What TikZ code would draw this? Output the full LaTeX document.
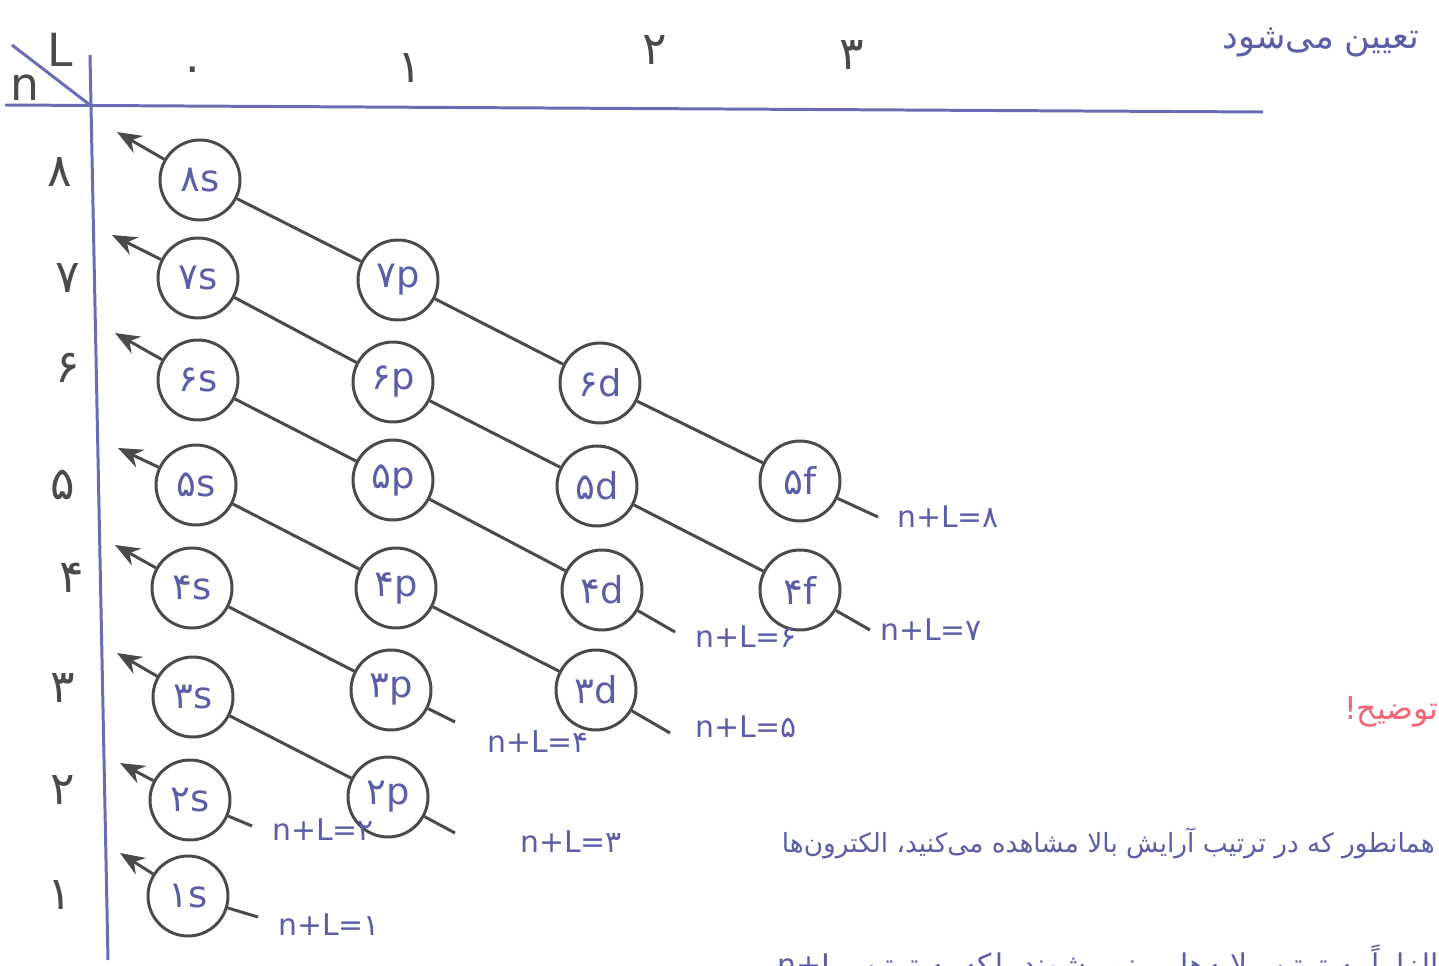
\documentclass[tikz,border=0pt]{standalone}
\usepackage{fontspec}
\setmainfont{DejaVu Sans}
\newfontfamily\arabicfont[Script=Arabic]{DejaVu Sans}
\TeXXeTstate=1
\usetikzlibrary{arrows.meta}
\definecolor{ink}{HTML}{5B5EA6}
\definecolor{pen}{HTML}{4A4A4A}
\definecolor{axisblue}{HTML}{6A6CB4}
\definecolor{pinkink}{HTML}{F06474}
\begin{document}
\begin{tikzpicture}[x=0.02cm,y=-0.02cm,
  orb/.style={circle,draw=pen,line width=1.7pt,minimum size=1.6cm,inner sep=0pt,text=ink,font=\fontsize{21}{23}\selectfont},
  diag/.style={draw=pen,line width=1.7pt},
  arr/.style={diag,-{Stealth[length=14pt,width=11pt]}},
  sumlbl/.style={text=ink,font=\fontsize{17}{19}\selectfont,inner sep=0pt,anchor=west},
  rowlbl/.style={text=pen,font=\fontsize{26}{28}\selectfont,inner sep=0pt},
  axisline/.style={draw=axisblue,line width=1.7pt},
  note/.style={text=ink,inner sep=0pt}]
\useasboundingbox (0,0) rectangle (1439,966);
\clip (0,0) rectangle (1439,966);
\fill[white] (0,0) rectangle (1439,966);
% axes
\draw[axisline] (5,105) -- (1263,112);
\draw[axisline] (90,55) -- (108,960);
\draw[axisline] (12,45) -- (90,105);
\node[rowlbl] (hL) at (60,50) {L};
\node[rowlbl] (hn) at (25,88) {n};
% column headers
\node[rowlbl] (c0) at (193,75) {۰};
\node[rowlbl] (c1) at (410,68) {۱};
\node[rowlbl] (c2) at (655,50) {۲};
\node[rowlbl] (c3) at (852,55) {۳};
% row labels
\node[rowlbl] (r8) at (60,172) {۸};
\node[rowlbl] (r7) at (68,278) {۷};
\node[rowlbl] (r6) at (68,368) {۶};
\node[rowlbl] (r5) at (63,485) {۵};
\node[rowlbl] (r4) at (72,578) {۴};
\node[rowlbl] (r3) at (63,688) {۳};
\node[rowlbl] (r2) at (63,790) {۲};
\node[rowlbl] (r1) at (60,895) {۱};
% orbitals
\node[orb] (s8) at (200,180) {۸s};
\node[orb] (s7) at (198,278) {۷s};
\node[orb] (s6) at (198,380) {۶s};
\node[orb] (s5) at (196,485) {۵s};
\node[orb] (s4) at (192,588) {۴s};
\node[orb] (s3) at (193,697) {۳s};
\node[orb] (s2) at (190,800) {۲s};
\node[orb] (s1) at (188,896) {۱s};
\node[orb] (p7) at (398,280) {۷p};
\node[orb] (p6) at (393,382) {۶p};
\node[orb] (p5) at (393,480) {۵p};
\node[orb] (p4) at (396,588) {۴p};
\node[orb] (p3) at (391,690) {۳p};
\node[orb] (p2) at (388,797) {۲p};
\node[orb] (d6) at (600,383) {۶d};
\node[orb] (d5) at (597,486) {۵d};
\node[orb] (d4) at (602,590) {۴d};
\node[orb] (d3) at (596,690) {۳d};
\node[orb] (f5) at (800,481) {۵f};
\node[orb] (f4) at (800,590) {۴f};
% arrow heads and tails
\coordinate (a1) at (120,853); \coordinate (t1) at (258,917);
\coordinate (a2) at (120,763); \coordinate (t2) at (252,826);
\coordinate (a3) at (117,653); \coordinate (t3) at (455,833);
\coordinate (a4) at (115,545); \coordinate (t4) at (455,722);
\coordinate (a5) at (118,448); \coordinate (t5) at (670,733);
\coordinate (a6) at (115,333); \coordinate (t6) at (675,632);
\coordinate (a7) at (112,235); \coordinate (t7) at (870,630);
\coordinate (a8) at (117,132); \coordinate (t8) at (878,517);
% n+l = 1
\draw[arr] (s1) -- (a1); \draw[diag] (s1) -- (t1);
% n+l = 2
\draw[arr] (s2) -- (a2); \draw[diag] (s2) -- (t2);
% n+l = 3
\draw[arr] (s3) -- (a3); \draw[diag] (s3) -- (p2); \draw[diag] (p2) -- (t3);
% n+l = 4
\draw[arr] (s4) -- (a4); \draw[diag] (s4) -- (p3); \draw[diag] (p3) -- (t4);
% n+l = 5
\draw[arr] (s5) -- (a5); \draw[diag] (s5) -- (p4); \draw[diag] (p4) -- (d3); \draw[diag] (d3) -- (t5);
% n+l = 6
\draw[arr] (s6) -- (a6); \draw[diag] (s6) -- (p5); \draw[diag] (p5) -- (d4); \draw[diag] (d4) -- (t6);
% n+l = 7
\draw[arr] (s7) -- (a7); \draw[diag] (s7) -- (p6); \draw[diag] (p6) -- (d5); \draw[diag] (d5) -- (f4); \draw[diag] (f4) -- (t7);
% n+l = 8
\draw[arr] (s8) -- (a8); \draw[diag] (s8) -- (p7); \draw[diag] (p7) -- (d6); \draw[diag] (d6) -- (f5); \draw[diag] (f5) -- (t8);
% sum labels
\node[sumlbl] (l1) at (278,925) {n+L=۱};
\node[sumlbl] (l2) at (272,830) {n+L=۲};
\node[sumlbl] (l3) at (520,842) {n+L=۳};
\node[sumlbl] (l4) at (487,742) {n+L=۴};
\node[sumlbl] (l5) at (695,727) {n+L=۵};
\node[sumlbl] (l6) at (695,637) {n+L=۶};
\node[sumlbl] (l7) at (880,630) {n+L=۷};
\node[sumlbl] (l8) at (897,517) {n+L=۸};
% Persian notes
\node[note,anchor=east,font=\arabicfont\fontsize{20}{24}\selectfont] (top) at (1420,42) {\beginR تعیین می‌شود\endR};
\node[note,anchor=east,text=pinkink,font=\arabicfont\fontsize{18}{22}\selectfont] (tozih) at (1439,712) {\beginR توضیح!\endR};
\node[note,anchor=east,font=\arabicfont\fontsize{15}{20}\selectfont] (body1) at (1435,843) {\beginR همانطور که در ترتیب آرایش بالا مشاهده می‌کنید، الکترون‌ها\endR};
\node[note,anchor=north east,font=\arabicfont\fontsize{17}{22}\selectfont] (body2) at (1439,944) {\beginR الزاماً به ترتیب لایه‌ها پر نمی‌شوند بلکه به ترتیب n+L\endR};
\end{tikzpicture}
\end{document}
